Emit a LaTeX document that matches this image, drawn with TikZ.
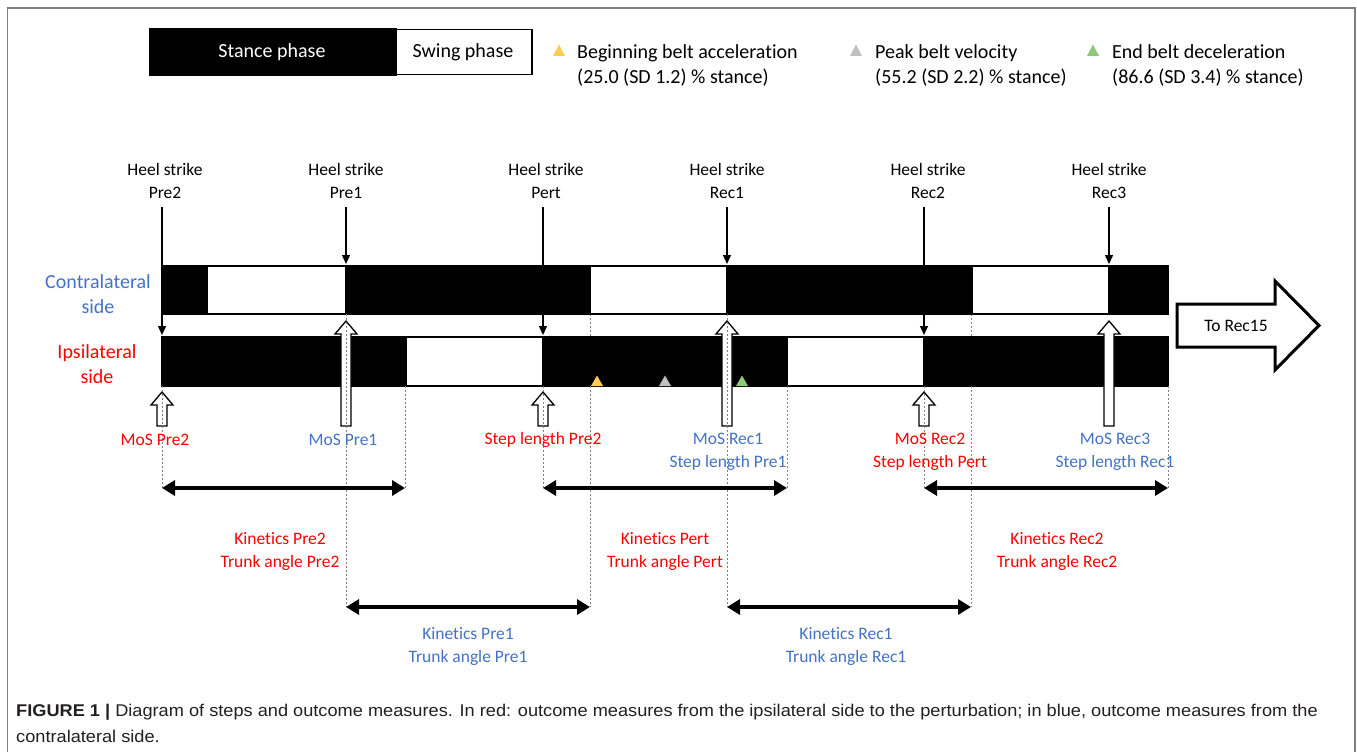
\documentclass[tikz,border=0pt]{standalone}
\usepackage{fontspec}
\setmainfont{Carlito}[Ligatures=NoCommon]
\newfontfamily\capfont[FakeStretch=1.07]{Liberation Sans}
\usetikzlibrary{arrows.meta}
\definecolor{cred}{HTML}{FF0000}
\definecolor{cblue}{HTML}{4472C4}
\definecolor{tyel}{HTML}{FFCC55}
\definecolor{tgray}{HTML}{BFBFBF}
\definecolor{tgreen}{HTML}{8FC87A}
\definecolor{framec}{HTML}{7F7F7F}
\definecolor{captc}{HTML}{231F20}
\newcommand\hollowarrow[3]{%
  \draw[hollow] (#1-5,426) -- (#1-5,#2+13) -- (#1-11,#2+13) -- (#1,#2) -- (#1+11,#2+13) -- (#1+5,#2+13) -- (#1+5,426) -- cycle;
  \coordinate (#3) at (#1,#2);}
\begin{document}
\begin{tikzpicture}[x=1pt,y=-1pt,
  lbl/.style={font=\fontsize{17.5}{23}\selectfont, align=center, inner sep=0pt},
  big/.style={font=\fontsize{20}{25}\selectfont, align=center, inner sep=0pt},
  redlbl/.style={lbl, text=cred},
  bluelbl/.style={lbl, text=cblue},
  stance/.style={fill=black, draw=black, line width=1.5pt},
  swing/.style={fill=white, draw=black, line width=1.5pt},
  hs/.style={-{Triangle[length=9pt,width=8pt]}, line width=1.4pt},
  span/.style={{Triangle[length=13pt,width=15pt]}-{Triangle[length=13pt,width=15pt]}, line width=3.5pt},
  guide/.style={draw=gray, line width=0.9pt, dash pattern=on 2pt off 2pt},
  hollow/.style={fill=white, draw=black, line width=1.3pt},
  capt/.style={anchor=base west, inner sep=0pt, text=captc, font=\capfont\fontsize{17}{21}\selectfont}
]
\useasboundingbox (0,0) rectangle (1357,752);
% frame
\draw[framec, line width=1.5pt] (7.5,760) -- (7.5,8) -- (1355,8) -- (1355,760);

% legend
\node[stance, minimum width=246pt, minimum height=47pt, anchor=north west, inner sep=0pt] (lstance) at (149,28) {};
\node[swing, minimum width=136pt, minimum height=45pt, anchor=north west, inner sep=0pt] (lswing) at (395,29) {};
\node[big, text=white] (lstancet) at (272,52) {Stance phase};
\node[big] (lswingt) at (463,52) {Swing phase};
\fill[tyel] (553,56) -- (565,56) -- (559,44.5) -- cycle;
\fill[tgray] (850,56) -- (862,56) -- (856,44.5) -- cycle;
\fill[tgreen] (1087,56) -- (1099,56) -- (1093,44.5) -- cycle;
\node[big, align=left, anchor=west] (lg1) at (577,65) {Beginning belt acceleration\\(25.0 (SD 1.2) \% stance)};
\node[big, align=left, anchor=west] (lg2) at (875,65) {Peak belt velocity\\(55.2 (SD 2.2) \% stance)};
\node[big, align=left, anchor=west] (lg3) at (1112,65) {End belt deceleration\\(86.6 (SD 3.4) \% stance)};

% side labels
\node[big, text=cblue] (contra) at (98,294) {Contralateral\\side};
\node[big, text=cred] (ipsi) at (97,364) {Ipsilateral\\side};

% guide lines behind bars
\draw[guide] (590,314) -- (590,337);
\draw[guide] (971,314) -- (971,337);

% contralateral bar
\draw[stance] (162,266) rectangle (1168,314);
\draw[swing] (207,266) rectangle (346,314);
\draw[swing] (590,266) rectangle (727,314);
\draw[swing] (972,266) rectangle (1109,314);
% ipsilateral bar
\draw[stance] (162,337) rectangle (1168,386);
\draw[swing] (406,337) rectangle (543,386);
\draw[swing] (787,337) rectangle (924,386);

% belt triangles
\fill[tyel] (591,386) -- (603,386) -- (597,375.5) -- cycle;
\fill[tgray] (659,386) -- (671,386) -- (665,375.5) -- cycle;
\fill[tgreen] (736,386) -- (748,386) -- (742,375.5) -- cycle;

% heel strike labels and arrows
\node[lbl] (hs1) at (165,181) {Heel strike\\Pre2};
\node[lbl] (hs2) at (346,181) {Heel strike\\Pre1};
\node[lbl] (hs3) at (546,181) {Heel strike\\Pert};
\node[lbl] (hs4) at (727,181) {Heel strike\\Rec1};
\node[lbl] (hs5) at (928,181) {Heel strike\\Rec2};
\node[lbl] (hs6) at (1109,181) {Heel strike\\Rec3};
\coordinate (t1) at (162,335);
\coordinate (t2) at (346,264);
\coordinate (t3) at (543,335);
\coordinate (t4) at (727,264);
\coordinate (t5) at (924,335);
\coordinate (t6) at (1109,264);
\draw[hs] (162,207) -- (t1);
\draw[hs] (346,207) -- (t2);
\draw[hs] (543,207) -- (t3);
\draw[hs] (727,207) -- (t4);
\draw[hs] (924,207) -- (t5);
\draw[hs] (1109,207) -- (t6);

% hollow arrows
\hollowarrow{162}{392}{h1}
\hollowarrow{346}{321}{h2}
\hollowarrow{543}{392}{h3}
\hollowarrow{727}{321}{h4}
\hollowarrow{924}{392}{h5}
\hollowarrow{1109}{321}{h6}

% guide lines
\draw[guide] (162,386) -- (162,488);
\draw[guide] (405,386) -- (405,488);
\draw[guide] (346,314) -- (346,607);
\draw[guide] (543,386) -- (543,488);
\draw[guide] (590,386) -- (590,607);
\draw[guide] (727,314) -- (727,607);
\draw[guide] (787,386) -- (787,488);
\draw[guide] (924,386) -- (924,488);
\draw[guide] (971,386) -- (971,607);
\draw[guide] (1168,386) -- (1168,488);

% measure labels
\node[redlbl] (m1) at (155,440) {MoS Pre2};
\node[bluelbl] (m2) at (343,440) {MoS Pre1};
\node[redlbl] (m3) at (543,440) {Step length Pre2};
\node[bluelbl] (m4) at (728,452) {MoS Rec1\\Step length Pre1};
\node[redlbl] (m5) at (930,452) {MoS Rec2\\Step length Pert};
\node[bluelbl] (m6) at (1115,452) {MoS Rec3\\Step length Rec1};

% span arrows
\coordinate (k1a) at (162,488); \coordinate (k1b) at (405,488);
\coordinate (k2a) at (543,488); \coordinate (k2b) at (787,488);
\coordinate (k3a) at (924,488); \coordinate (k3b) at (1168,488);
\coordinate (k4a) at (346,607); \coordinate (k4b) at (590,607);
\coordinate (k5a) at (727,607); \coordinate (k5b) at (971,607);
\draw[span] (k1a) -- (k1b);
\draw[span] (k2a) -- (k2b);
\draw[span] (k3a) -- (k3b);
\draw[span] (k4a) -- (k4b);
\draw[span] (k5a) -- (k5b);
\node[redlbl] (kn1) at (280,551) {Kinetics Pre2\\Trunk angle Pre2};
\node[redlbl] (kn2) at (665,551) {Kinetics Pert\\Trunk angle Pert};
\node[redlbl] (kn3) at (1057,551) {Kinetics Rec2\\Trunk angle Rec2};
\node[bluelbl] (kn4) at (468,646) {Kinetics Pre1\\Trunk angle Pre1};
\node[bluelbl] (kn5) at (846,646) {Kinetics Rec1\\Trunk angle Rec1};

% To Rec15
\draw[line width=3pt, fill=white] (1177,304) -- (1275,304) -- (1275,281) -- (1319,325.5) -- (1275,370) -- (1275,347) -- (1177,347) -- cycle;
\node[lbl] (torec) at (1236,326) {To Rec15};

% caption
\node[capt] (cap1) at (16,716) {\textbf{FIGURE 1 |} Diagram of steps and outcome measures. In red: outcome measures from the ipsilateral side to the perturbation; in blue, outcome measures from the};
\node[capt] (cap2) at (16,742) {contralateral side.};
\end{tikzpicture}
\end{document}
